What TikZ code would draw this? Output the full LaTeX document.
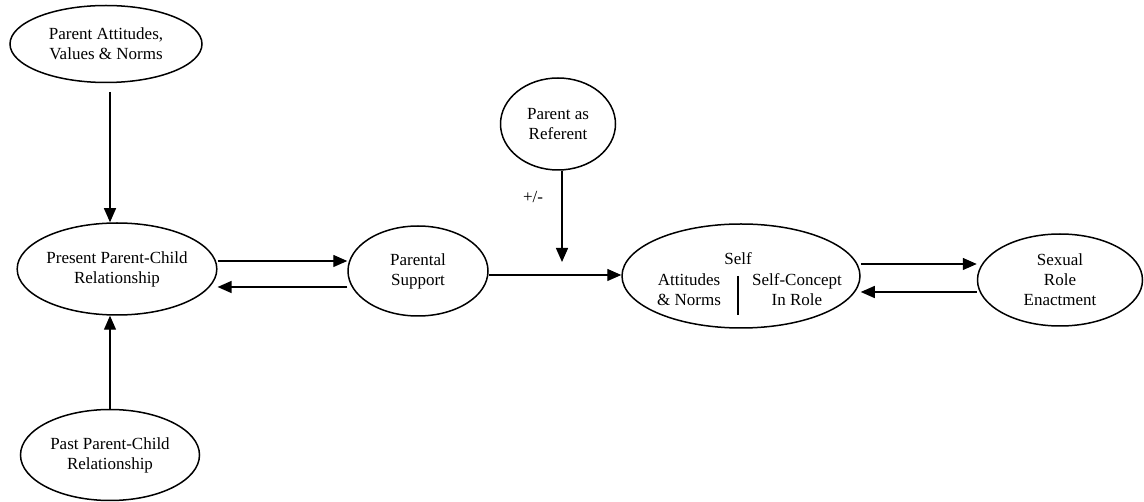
\documentclass[tikz,border=0pt]{standalone}
\usepackage{fontspec}
\setmainfont{Liberation Serif}
\usetikzlibrary{shapes.geometric,arrows.meta}

\tikzset{
  oval/.style={draw, ellipse, line width=1.5pt, inner sep=0pt, align=center,
    font=\fontsize{17}{20}\selectfont},
  lbl/.style={inner sep=0pt, align=center, font=\fontsize{17}{20}\selectfont},
  link/.style={line width=1.4pt, -{Triangle[length=14pt,width=12pt]}}
}

\begin{document}
\begin{tikzpicture}[x=1pt,y=-1pt]
\useasboundingbox (0,0) rectangle (1144,502);

\node[oval, minimum width=192pt, minimum height=77pt] (attitudes) at (106,44) {Parent Attitudes,\\ Values \& Norms};
\node[oval, minimum width=190pt, minimum height=92pt] (present) at (117,269) {Present Parent-Child\\ Relationship};
\node[oval, minimum width=179pt, minimum height=91pt] (past) at (110,455) {Past Parent-Child\\ Relationship};
\node[oval, minimum width=140pt, minimum height=90pt] (support) at (418,271) {Parental\\ Support};
\node[oval, minimum width=115pt, minimum height=92pt] (referent) at (558,124) {Parent as\\ Referent};
\node[oval, minimum width=238pt, minimum height=104pt] (self) at (741,276) {};
\node[oval, minimum width=165pt, minimum height=92pt] (sexual) at (1060,280) {Sexual\\ Role\\ Enactment};

% inside the self oval
\node[lbl] (selftitle) at (738,259) {Self};
\node[lbl] (selfatt) at (689,290) {Attitudes\\ \& Norms};
\node[lbl] (selfcon) at (797,290) {Self-Concept\\ In Role};
\coordinate (divtop) at (738,276);
\coordinate (divbot) at (738,315);
\draw[line width=1.4pt] (divtop) -- (divbot);

\node[lbl] (sign) at (533,197) {+/-};
\coordinate (join) at (562,275);
\coordinate (upper) at (110,92);

% vertical links on the left
\draw[link] (upper) -- (upper |- present.north);
\draw[link] (past.north) -- (past.north |- present.south);

% present <-> support
\draw[link] ([yshift=8pt]present.east) -- ([yshift=8pt]present.east -| support.west);
\draw[link] ([yshift=-16pt]support.west) -- ([yshift=-16pt]support.west -| present.east);

% support -> self, referent on top
\draw[link] (support.east |- join) -- (self.west |- join);
\draw[link] (referent.south -| join) -- ([yshift=13pt]join);

% self <-> sexual
\draw[link] ([yshift=12pt]self.east) -- ([yshift=12pt]self.east -| sexual.west);
\draw[link] ([yshift=-12pt]sexual.west) -- ([yshift=-12pt]sexual.west -| self.east);
\end{tikzpicture}
\end{document}
